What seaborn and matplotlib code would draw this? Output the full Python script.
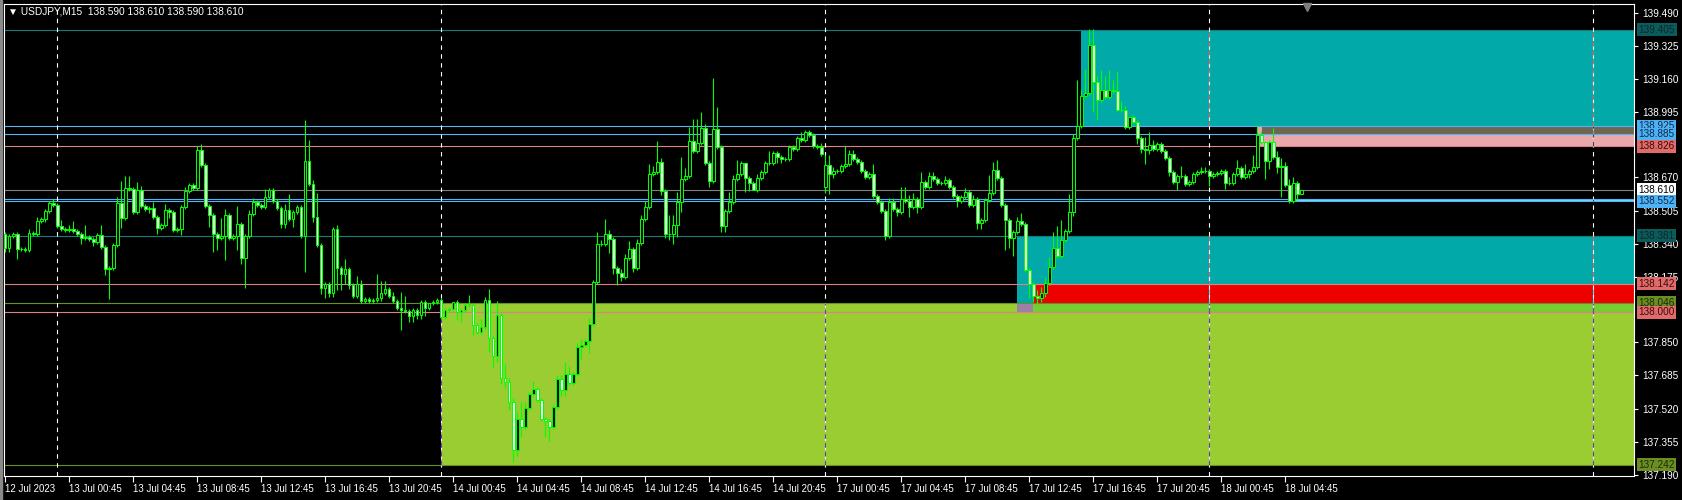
import matplotlib
matplotlib.use("Agg")
import matplotlib.pyplot as plt
import matplotlib.colors as mcolors
from matplotlib.patches import Rectangle
import numpy as np
import pandas as pd
import seaborn as sns

# USDJPY M15 candles, bar 0 = 12 Jul 20:45
first_open = 138.391
closes = [
    138.321, 138.379, 138.391, 138.313, 138.316, 138.308, 138.393, 138.388, 138.454, 138.461,
    138.501, 138.541, 138.534, 138.428, 138.413, 138.411, 138.414, 138.404, 138.391, 138.368,
    138.376, 138.363, 138.351, 138.385, 138.324, 138.214, 138.221, 138.333, 138.541, 138.468,
    138.618, 138.611, 138.496, 138.609, 138.529, 138.513, 138.518, 138.471, 138.421, 138.433,
    138.508, 138.498, 138.408, 138.413, 138.521, 138.604, 138.633, 138.616, 138.808, 138.733,
    138.529, 138.483, 138.391, 138.371, 138.379, 138.483, 138.371, 138.379, 138.438, 138.268,
    138.379, 138.488, 138.549, 138.533, 138.521, 138.574, 138.608, 138.554, 138.516, 138.441,
    138.508, 138.463, 138.496, 138.524, 138.379, 138.754, 138.638, 138.471, 138.333, 138.118,
    138.138, 138.096, 138.413, 138.218, 138.188, 138.213, 138.134, 138.080, 138.141, 138.054,
    138.065, 138.054, 138.061, 138.068, 138.093, 138.113, 138.080, 138.054, 138.020, 138.011,
    138.008, 137.980, 138.013, 137.985, 138.051, 138.021, 138.046, 138.053, 138.059, 137.974,
    138.009, 138.018, 138.051, 138.001, 138.013, 138.034, 138.034, 137.938, 137.900, 137.924,
    138.063, 137.871, 137.780, 137.988, 137.671, 137.651, 137.551, 137.313, 137.471, 137.430,
    137.524, 137.591, 137.616, 137.563, 137.468, 137.458, 137.430, 137.529, 137.668, 137.613,
    137.691, 137.646, 137.691, 137.829, 137.838, 137.858, 137.941, 138.151, 138.341, 138.338,
    138.391, 138.366, 138.221, 138.196, 138.174, 138.268, 138.313, 138.218, 138.346, 138.463,
    138.521, 138.688, 138.699, 138.749, 138.604, 138.388, 138.391, 138.434, 138.546, 138.663,
    138.678, 138.849, 138.804, 138.841, 138.918, 138.741, 138.654, 138.913, 138.824, 138.429,
    138.504, 138.546, 138.663, 138.688, 138.743, 138.666, 138.641, 138.608, 138.668, 138.699,
    138.741, 138.744, 138.793, 138.771, 138.763, 138.761, 138.824, 138.813, 138.868, 138.858,
    138.896, 138.883, 138.829, 138.821, 138.788, 138.734, 138.688, 138.701, 138.704, 138.728,
    138.738, 138.788, 138.763, 138.746, 138.701, 138.674, 138.688, 138.576, 138.546, 138.501,
    138.379, 138.546, 138.513, 138.499, 138.563, 138.554, 138.524, 138.563, 138.524, 138.649,
    138.624, 138.678, 138.663, 138.641, 138.641, 138.658, 138.621, 138.579, 138.554, 138.571,
    138.599, 138.534, 138.563, 138.446, 138.458, 138.558, 138.593, 138.708, 138.668, 138.534,
    138.458, 138.368, 138.401, 138.454, 138.441, 138.208, 138.138, 138.079, 138.071, 138.096,
    138.146, 138.224, 138.318, 138.279, 138.358, 138.404, 138.499, 138.868, 138.924, 139.074,
    139.088, 139.329, 139.146, 139.054, 139.104, 139.071, 139.104, 139.101, 139.004, 139.008,
    138.921, 138.971, 138.946, 138.868, 138.813, 138.808, 138.834, 138.813, 138.838, 138.804,
    138.768, 138.696, 138.646, 138.676, 138.678, 138.638, 138.646, 138.688, 138.696, 138.701,
    138.704, 138.679, 138.688, 138.694, 138.701, 138.641, 138.644, 138.688, 138.716, 138.671,
    138.688, 138.704, 138.721, 138.883, 138.846, 138.754, 138.846, 138.771, 138.721, 138.726,
    138.633, 138.554, 138.643, 138.590, 138.610,
]
gap_opens = {205: 138.621}

# wick lengths beyond the body, in pips (0.01)
upper_wick = [
    1, 1, 1, 1, 1, 1, 2, 1, 2, 1,   1, 1, 2, 1, 3, 1, 2, 4, 1, 1,
    6, 1, 1, 1, 5, 1, 1, 1, 3, 11,  6, 6, 1, 4, 2, 1, 1, 3, 1, 1,
    3, 1, 1, 1, 1, 2, 1, 1, 2, 3,   1, 1, 1, 1, 9, 3, 1, 1, 9, 1,
    1, 2, 2, 1, 1, 4, 1, 1, 1, 1,   3, 8, 1, 1, 1, 20, 10, 2, 12, 1,
    1, 1, 1, 2, 1, 5, 1, 1, 4, 2,   1, 1, 1, 12, 6, 4, 1, 2, 1, 8,
    7, 1, 1, 1, 1, 1, 0, 1, 1, 1,   1, 1, 0, 1, 1, 1, 5, 1, 1, 4,
    1, 5, 1, 7, 1, 7, 2, 2, 3, 8,   3, 1, 4, 1, 1, 1, 1, 1, 2, 2,
    6, 4, 1, 2, 3, 1, 3, 1, 6, 2,   7, 2, 1, 1, 2, 2, 4, 1, 2, 2,
    3, 5, 3, 10, 2, 1, 9, 5, 5, 11, 4, 7, 11, 12, 8, 2, 1, 25, 11, 1,
    1, 5, 2, 7, 1, 0, 1, 1, 2, 1,   1, 6, 1, 1, 1, 1, 1, 1, 1, 3,
    1, 1, 1, 1, 2, 5, 5, 2, 1, 1,   9, 2, 2, 1, 1, 1, 1, 5, 1, 1,
    1, 2, 2, 1, 6, 6, 3, 3, 1, 5,   1, 2, 2, 1, 1, 2, 1, 1, 1, 1,
    2, 1, 2, 1, 1, 1, 9, 4, 5, 1,   1, 1, 1, 2, 4, 1, 1, 1, 3, 3,
    3, 5, 8, 11, 10, 1, 9, 2, 23, 3, 12, 8, 8, 3, 10, 7, 10, 5, 10, 4,
    2, 0, 1, 1, 1, 6, 6, 2, 1, 1,   1, 1, 1, 1, 5, 1, 1, 1, 1, 2,
    2, 1, 1, 1, 1, 1, 3, 1, 4, 1,   5, 1, 6, 5, 2, 0, 1, 7, 3, 4,
    2, 3, 3, 1, 0,
]
lower_wick = [
    2, 2, 1, 5, 1, 1, 1, 1, 1, 1,   1, 1, 1, 1, 1, 1, 1, 1, 1, 3,
    1, 1, 2, 1, 1, 3, 15, 1, 1, 5,  1, 1, 1, 1, 1, 1, 2, 1, 3, 1,
    1, 3, 1, 1, 3, 1, 1, 1, 1, 1,   1, 6, 9, 6, 1, 12, 1, 1, 7, 3,
    15, 1, 1, 1, 1, 1, 1, 1, 1, 2,  2, 1, 4, 1, 1, 18, 1, 2, 1, 3,
    5, 2, 2, 11, 8, 5, 2, 1, 1, 1,  1, 1, 1, 1, 1, 1, 1, 1, 1, 10,
    1, 3, 3, 2, 2, 4, 1, 1, 1, 1,   1, 1, 1, 4, 5, 1, 1, 5, 1, 1,
    1, 7, 6, 3, 3, 3, 4, 6, 3, 5,   1, 1, 1, 1, 1, 8, 7, 1, 1, 3,
    3, 1, 1, 1, 6, 1, 6, 1, 1, 1,   1, 7, 3, 6, 2, 1, 1, 2, 1, 1,
    1, 1, 1, 1, 2, 2, 3, 5, 6, 5,   1, 1, 1, 1, 1, 1, 3, 1, 1, 3,
    3, 1, 1, 1, 1, 7, 4, 0, 1, 1,   1, 1, 1, 3, 2, 1, 1, 1, 1, 1,
    1, 1, 1, 1, 1, 3, 10, 2, 1, 1,  1, 1, 1, 1, 1, 1, 1, 1, 1, 1,
    2, 1, 1, 2, 1, 1, 5, 1, 3, 1,   1, 1, 1, 1, 1, 1, 1, 1, 3, 1,
    1, 1, 1, 3, 3, 1, 1, 1, 1, 1,   15, 5, 9, 1, 1, 1, 7, 3, 3, 2,
    2, 1, 1, 1, 1, 1, 1, 2, 1, 1,   1, 1, 15, 10, 1, 1, 1, 1, 1, 1,
    1, 1, 1, 3, 2, 7, 2, 1, 1, 1,   1, 2, 1, 4, 1, 1, 1, 1, 1, 1,
    1, 5, 1, 1, 1, 3, 1, 1, 1, 1,   1, 2, 1, 1, 1, 9, 4, 1, 3, 15,
    1, 1, 1, 3, 0,
]

tick_bars = list(range(0, 321, 16))
tick_labels = [
    "12 Jul 2023", "13 Jul 00:45", "13 Jul 04:45", "13 Jul 08:45", "13 Jul 12:45",
    "13 Jul 16:45", "13 Jul 20:45", "14 Jul 00:45", "14 Jul 04:45", "14 Jul 08:45",
    "14 Jul 12:45", "14 Jul 16:45", "14 Jul 20:45", "17 Jul 00:45", "17 Jul 04:45",
    "17 Jul 08:45", "17 Jul 12:45", "17 Jul 16:45", "17 Jul 20:45", "18 Jul 00:45",
    "18 Jul 04:45",
]
day_start_bars = [13, 109, 205, 301, 397]
price_ticks = [139.490, 139.325, 139.160, 138.995, 138.670, 138.505, 138.340,
               138.175, 137.850, 137.685, 137.520, 137.355, 137.190]

# supply / demand zones: start bar, end bar (None = right edge), top, bottom, colour
zone_starts = [108.9, 252.9, 256.9, 256.9, 252.9, 268.9, 312.9, 314.2, 320.9]
zone_ends = [None, None, None, None, 256.9, None, None, None, None]
zone_tops = [138.046, 138.381, 138.142, 138.046, 138.046, 139.405, 138.925, 138.925, 138.562]
zone_bottoms = [137.242, 138.046, 138.046, 138.000, 138.000, 138.925, 138.826, 138.885, 138.552]
zone_colors = ["#9ACD32", "#02A9A9", "#EE0000", "#77CC33", "#9E7FA5",
               "#02A9A9", "#EBA8AA", "#6E6650", "#80D4FF"]

# horizontal levels
level_prices = [139.405, 138.925, 138.885, 138.826, 138.610, 138.562, 138.552,
                138.381, 138.142, 138.046, 138.000, 137.242]
level_colors = ["#177C7C", "#4FB6F2", "#4FB6F2", "#DC8286", "#808080", "#4FB6F2", "#4FB6F2",
                "#177C7C", "#DC8286", "#6B8E23", "#DC8286", "#6B8E23"]

label_prices = [139.405, 138.925, 138.885, 138.826, 138.610, 138.552,
                138.381, 138.142, 138.046, 138.000, 137.242]
label_bg = ["#0A5C5C", "#4DB1F5", "#4DB1F5", "#E16B6B", "#FFFFFF", "#4DB1F5",
            "#0A5C5C", "#E16B6B", "#6B8E23", "#E16B6B", "#6B8E23"]
label_fg = ["#0F2626", "#0E2A4A", "#0E2A4A", "#3A0A0A", "#000000", "#0E2A4A",
            "#0F2626", "#3A0A0A", "#1A2A05", "#3A0A0A", "#1A2A05"]

header = "\u25BC USDJPY,M15  138.590 138.610 138.590 138.610"

sns.set_theme(style="dark", rc={"axes.facecolor": "black", "figure.facecolor": "black",
                                "axes.grid": False})
plt.rcParams["font.family"] = ["Liberation Sans", "DejaVu Sans"]

df = pd.DataFrame({"close": closes})
df["open"] = [first_open] + closes[:-1]
for k, v in gap_opens.items():
    df.loc[k, "open"] = v
df["high"] = df[["open", "close"]].max(axis=1) + np.array(upper_wick) / 100
df["low"] = df[["open", "close"]].min(axis=1) - np.array(lower_wick) / 100
df["bull"] = df["close"] >= df["open"]

W, H = 1682, 500
fig = plt.figure(figsize=(W / 100, H / 100), dpi=100)
ax = fig.add_axes([4 / W, 24 / H, 1630 / W, 472 / H])
ax.set_facecolor("black")
x_right = 407.15
ax.set_xlim(-0.35, x_right)
ax.set_ylim(137.185, 139.533)

# zones
for s, e, t, b, c in zip(zone_starts, zone_ends, zone_tops, zone_bottoms, zone_colors):
    e = x_right if e is None else e
    ax.add_patch(Rectangle((s, b), e - s, t - b, color=c, lw=0, zorder=1))

# levels
for p, c in zip(level_prices, level_colors):
    ax.axhline(p, color=c, lw=0.8, zorder=2)

# period separators (xor-like on zones)
dash = (0, (4, 4))
for s in day_start_bars:
    ax.axvline(s, color="white", lw=0.8, ls=dash, zorder=2.5)
    for zs, ze, t, b, c in zip(zone_starts, zone_ends, zone_tops, zone_bottoms, zone_colors):
        if zs < s and (ze is None or ze > s):
            r, g, bl = mcolors.to_rgb(c)
            ax.vlines(s, b, t, color=(1 - r, 1 - g, 1 - bl), lw=0.8, linestyles=dash, zorder=2.6)

# candles
green = "#00FF00"
ax.vlines(df.index, df["low"], df["high"], color=green, lw=0.8, zorder=4)
body_h = (df["close"] - df["open"]).abs().clip(lower=0.0015)
ax.bar(df.index, body_h, bottom=df[["open", "close"]].min(axis=1), width=0.55,
       color=np.where(df["bull"], "black", "white"), edgecolor=green, linewidth=0.75, zorder=5)

# frame
for sp in ax.spines.values():
    sp.set_color("white")
    sp.set_linewidth(0.8)
    sp.set_visible(True)

ax.set_xticks(tick_bars)
ax.set_xticklabels(tick_labels, ha="left")
ax.tick_params(axis="x", colors="white", direction="out", length=4, width=0.8,
               labelsize=7, pad=2, bottom=True)
ax.yaxis.tick_right()
ax.set_yticks(price_ticks)
ax.set_yticklabels([f"{v:.3f}" for v in price_ticks])
ax.tick_params(axis="y", colors="white", direction="out", length=3, width=0.8,
               labelsize=7.2, pad=3, right=True, left=False)
for lab in ax.get_xticklabels() + ax.get_yticklabels():
    lab.set_color("white")

# price labels on the right scale
for p, bg, fg in zip(label_prices, label_bg, label_fg):
    ax.text(1 + 4.5 / 1630, p, f"{p:.3f}", transform=ax.get_yaxis_transform(),
            fontsize=7.2, color=fg, va="center", ha="left", zorder=10, clip_on=False,
            bbox=dict(boxstyle="square,pad=0.15", fc=bg, ec="none"))

# header and chart shift marker
fig.text(8 / W, 1 - 12 / H, header, color="white", fontsize=7.3, va="center", ha="left")
ax.plot([(1307 - 4) / 1630], [1 - 3 / 472], marker="v", color="#7F7F7F", ms=6,
        transform=ax.transAxes, clip_on=False, zorder=10)

fig.patches.append(Rectangle((0, 0), 2 / W, 1, transform=fig.transFigure,
                             color="#8A8A8A", zorder=0))

fig.savefig("out.png", dpi=100, facecolor="black")
